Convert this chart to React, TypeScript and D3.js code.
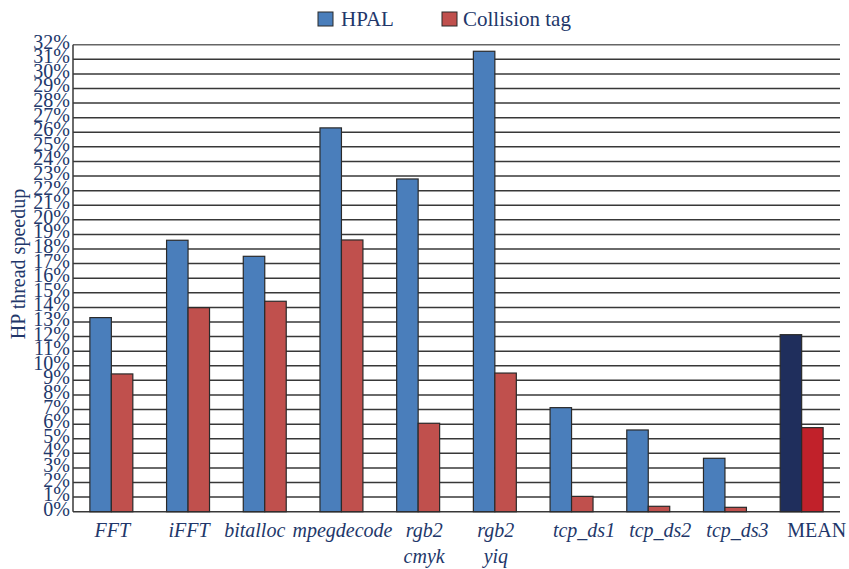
import React from "react";
import * as d3 from "d3";

const categories = ["FFT", "iFFT", "bitalloc", "mpegdecode", "rgb2\ncmyk", "rgb2\nyiq", "tcp_ds1", "tcp_ds2", "tcp_ds3", "MEAN"];
const hpal = [13.3, 18.6, 17.5, 26.3, 22.8, 31.55, 7.13, 5.6, 3.66, 12.13];
const collisionTag = [9.44, 13.98, 14.42, 18.62, 6.06, 9.5, 1.05, 0.37, 0.3, 5.76];
const seriesNames = ["HPAL", "Collision tag"];
const yTicks = d3.range(0, 33);

const W = 849;
const H = 569;
const M = { left: 73, right: 9, top: 44.7, bottom: 57.3 };
const TEXT = "#22376a";
const FONT = "Liberation Serif, Tinos, Times New Roman, DejaVu Serif, serif";

// horizontal offsets of category labels relative to their band centre
const labelNudge: Record<string, number> = {
  FFT: 1,
  iFFT: 1,
  bitalloc: -10,
  mpegdecode: 1,
  "rgb2\ncmyk": 6,
  "rgb2\nyiq": 1,
  tcp_ds1: 12.5,
  tcp_ds2: 12,
  tcp_ds3: 12.5,
  MEAN: 15,
};

export default function App() {
  const x = d3.scaleBand<string>().domain(categories).range([M.left, W - M.right]).padding(0);
  const groupW = x.bandwidth() * 0.56;
  const inner = d3.scaleBand<string>().domain(seriesNames).range([0, groupW]).padding(0);
  const y = d3.scaleLinear().domain([0, 32]).range([H - M.bottom, M.top]);

  const fill = (s: number, i: number) => {
    const mean = categories[i] === "MEAN";
    if (s === 0) return mean ? "#1f2e5c" : "#4a7ebb";
    return mean ? "#c1212a" : "#c0504d";
  };

  return (
    <svg width={W} height={H} style={{ position: "fixed", left: 0, top: 0, background: "#fff", fontFamily: FONT }}>
      {/* legend */}
      <g>
        <rect x={318} y={12} width={15} height={14} fill="#4a7ebb" stroke="#2a2a2a" strokeWidth={1} />
        <text x={341} y={26} fontSize={21} fill={TEXT}>{seriesNames[0]}</text>
        <rect x={442} y={12} width={15} height={14} fill="#c0504d" stroke="#2a2a2a" strokeWidth={1} />
        <text x={463} y={26} fontSize={21} fill={TEXT}>{seriesNames[1]}</text>
      </g>

      {/* gridlines */}
      {yTicks.map((t) => (
        <line key={t} x1={M.left} x2={W - M.right} y1={y(t)} y2={y(t)} stroke={t === 32 ? "#666" : "#383838"} strokeWidth={1.5} />
      ))}
      <line x1={M.left} x2={M.left} y1={y(32)} y2={y(0)} stroke="#383838" strokeWidth={1.5} />

      {/* y tick labels */}
      {yTicks.map((t) => (
        <text key={t} x={70} y={y(t) + 4} fontSize={20} textAnchor="end" fill={TEXT}>{t}%</text>
      ))}

      {/* y axis title */}
      <text transform={`translate(25,264) rotate(-90)`} fontSize={20} textAnchor="middle" fill={TEXT}>HP thread speedup</text>

      {/* bars */}
      {categories.map((c, i) => {
        const gx = (x(c) as number) + (x.bandwidth() - groupW) / 2;
        return [hpal[i], collisionTag[i]].map((v, s) => (
          <rect
            key={`${c}-${s}`}
            x={gx + (inner(seriesNames[s]) as number)}
            y={y(v)}
            width={inner.bandwidth()}
            height={y(0) - y(v)}
            fill={fill(s, i)}
            stroke="#2a2a2a"
            strokeWidth={1.2}
          />
        ));
      })}

      {/* x labels */}
      {categories.map((c) => {
        const cx = (x(c) as number) + x.bandwidth() / 2 + (labelNudge[c] ?? 0);
        const lines = c.split("\n");
        return (
          <text key={c} x={cx} y={537} fontSize={20} textAnchor="middle" fill={TEXT} fontStyle={c === "MEAN" ? "normal" : "italic"}>
            {lines.map((l, k) => (
              <tspan key={k} x={cx} dy={k === 0 ? 0 : 26}>{l}</tspan>
            ))}
          </text>
        );
      })}
    </svg>
  );
}
